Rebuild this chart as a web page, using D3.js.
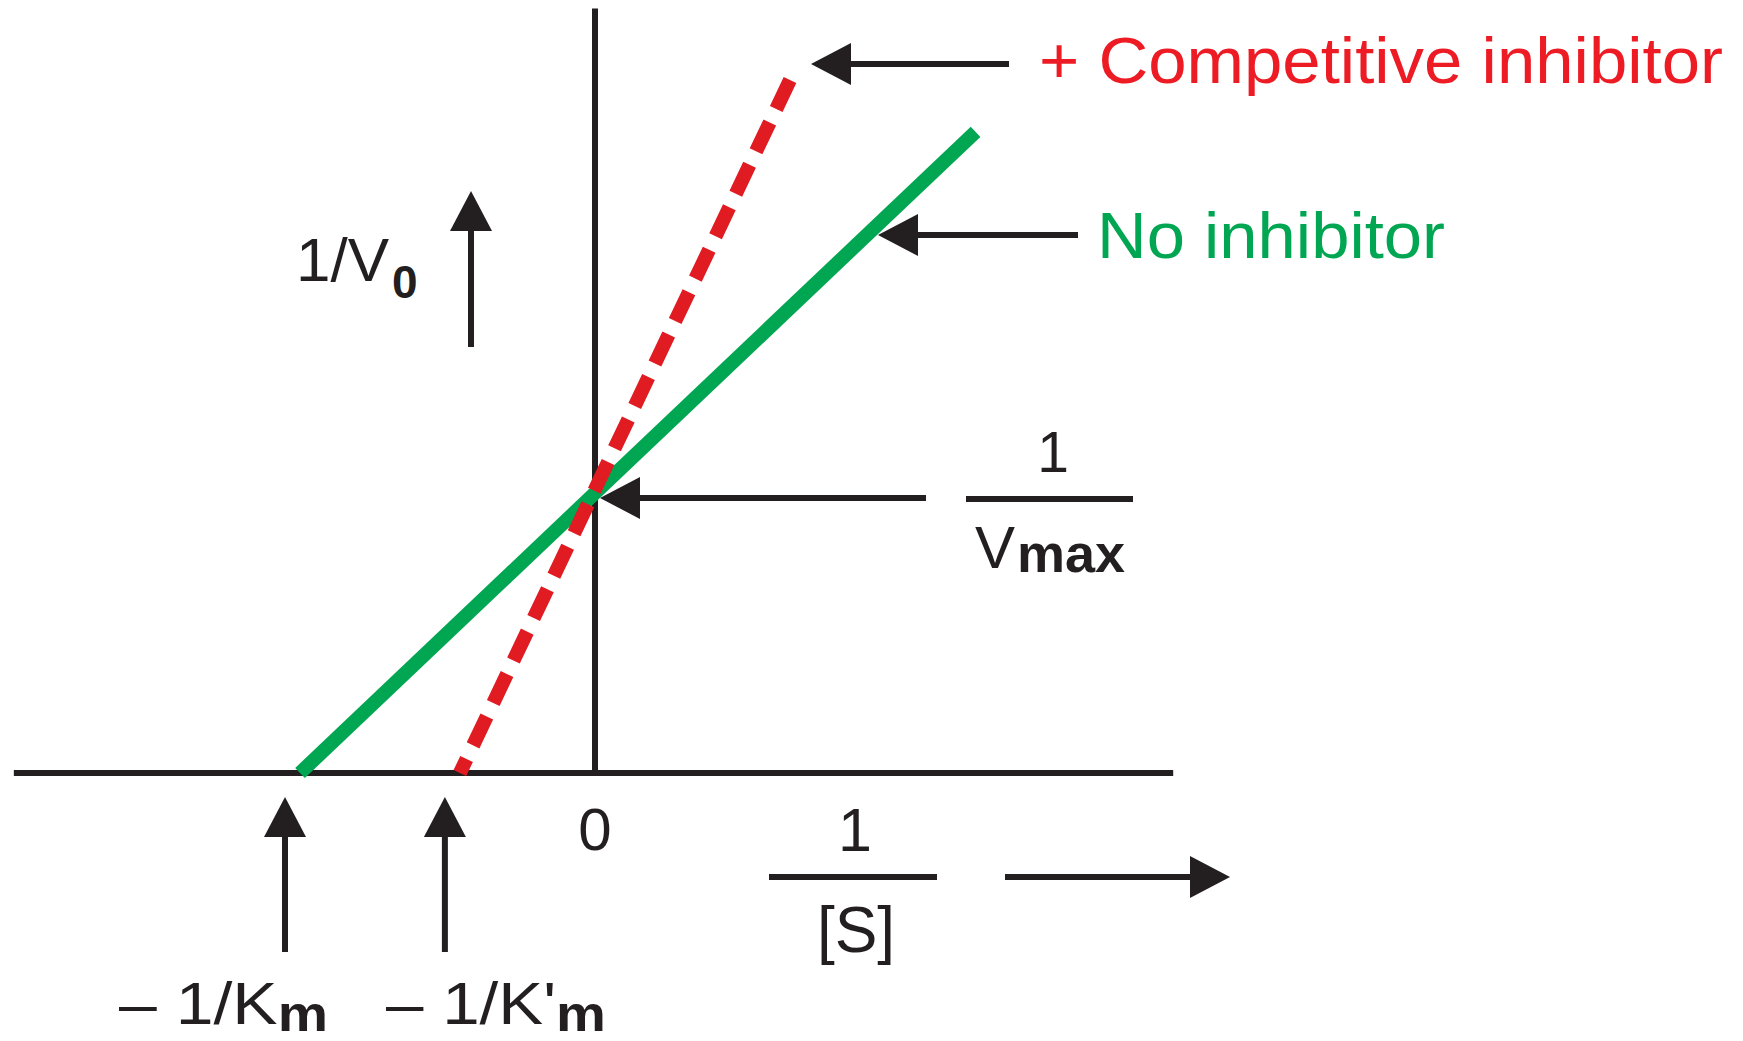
<!DOCTYPE html>
<html>
<head>
<meta charset="utf-8">
<script src="https://cdn.jsdelivr.net/npm/d3@7"></script>
<style>
  html, body { margin: 0; padding: 0; background: #fff; }
  svg { display: block; }
  text { font-family: "Liberation Sans", Arial, Helvetica, sans-serif; }
</style>
</head>
<body>
<svg id="canvas"></svg>
<script>
// Lineweaver-Burk plot, values in arbitrary units (x = 1/[S], y = 1/V0)
let noInhibitor = [[-1, 0], [1.29, 2.29]]
let competitive = [[0.661, 2.475], [-0.458, 0]]
let xExtent = [-1.97, 1.96]
let yExtent = [0, 2.73]
let intercepts = [-1, -0.458]
let interceptLabels = ['Km', "K'm"]
let vmaxInv = 1

let width = 1743
let height = 1041
let ink = '#231f20'
let green = '#00a651'
let red = '#e01b22'

let canvas = d3.select('#canvas')
    .attr('width', width)
    .attr('height', height)

let xScale = d3.scaleLinear().domain([-1, 0]).range([300, 595])
let yScale = d3.scaleLinear().domain([0, 1]).range([773, 493])

let line = d3.line()
    .x((d) => xScale(d[0]))
    .y((d) => yScale(d[1]))

// black arrow: shaft from (x1,y1) to tip (x2,y2)
let arrow = (x1, y1, x2, y2) => {
    let len = 40
    let half = 21
    let a = Math.atan2(y2 - y1, x2 - x1)
    let bx = x2 - len * Math.cos(a)
    let by = y2 - len * Math.sin(a)
    canvas.append('line')
        .attr('x1', x1).attr('y1', y1)
        .attr('x2', bx).attr('y2', by)
        .attr('stroke', ink)
        .attr('stroke-width', 6)
    let px = -Math.sin(a) * half
    let py = Math.cos(a) * half
    canvas.append('path')
        .attr('d', 'M' + x2 + ',' + y2 + 'L' + (bx + px) + ',' + (by + py) + 'L' + (bx - px) + ',' + (by - py) + 'Z')
        .attr('fill', ink)
}

let drawAxes = () => {
    canvas.append('line')
        .attr('x1', xScale(xExtent[0])).attr('x2', xScale(xExtent[1]))
        .attr('y1', yScale(0)).attr('y2', yScale(0))
        .attr('stroke', ink).attr('stroke-width', 6)
    canvas.append('line')
        .attr('x1', xScale(0)).attr('x2', xScale(0))
        .attr('y1', yScale(yExtent[0])).attr('y2', yScale(yExtent[1]))
        .attr('stroke', ink).attr('stroke-width', 6)
}

let drawLines = () => {
    canvas.append('path')
        .datum(noInhibitor)
        .attr('d', line)
        .attr('fill', 'none')
        .attr('stroke', green)
        .attr('stroke-width', 14)
    canvas.append('path')
        .datum(competitive)
        .attr('d', line)
        .attr('fill', 'none')
        .attr('stroke', red)
        .attr('stroke-width', 14)
        .attr('stroke-dasharray', '32,15')
}

let drawLabels = () => {
    // series labels
    canvas.append('text')
        .attr('x', 1039).attr('y', 83)
        .attr('font-size', 65)
        .attr('fill', '#ed1c24')
        .attr('textLength', 684)
        .attr('lengthAdjust', 'spacingAndGlyphs')
        .text('+ Competitive inhibitor')
    arrow(1009, 64, 811, 64)

    canvas.append('text')
        .attr('x', 1097).attr('y', 258)
        .attr('font-size', 65)
        .attr('fill', green)
        .attr('textLength', 348)
        .attr('lengthAdjust', 'spacingAndGlyphs')
        .text('No inhibitor')
    arrow(1078, 235, 878, 235)

    // y axis title
    let yt = canvas.append('text')
        .attr('x', 296).attr('y', 281)
        .attr('font-size', 62)
        .attr('fill', ink)
    yt.append('tspan').text('1/V')
    yt.append('tspan')
        .attr('font-size', 46)
        .attr('font-weight', 'bold')
        .attr('dy', 17)
        .attr('dx', 3)
        .text('0')
    arrow(471, 347, 471, 191)

    // 1/Vmax
    arrow(926, yScale(vmaxInv) + 5, xScale(0) + 5, yScale(vmaxInv) + 5)
    canvas.append('text')
        .attr('x', 1053).attr('y', 472)
        .attr('font-size', 57)
        .attr('text-anchor', 'middle')
        .attr('fill', ink)
        .text('1')
    canvas.append('line')
        .attr('x1', 966).attr('x2', 1133)
        .attr('y1', 499).attr('y2', 499)
        .attr('stroke', ink).attr('stroke-width', 6)
    let vt = canvas.append('text')
        .attr('x', 975).attr('y', 568)
        .attr('font-size', 60)
        .attr('fill', ink)
    vt.append('tspan').text('V')
    vt.append('tspan')
        .attr('font-size', 54)
        .attr('font-weight', 'bold')
        .attr('dy', 4)
        .attr('dx', 2)
        .text('max')

    // x axis labels
    canvas.append('text')
        .attr('x', xScale(0)).attr('y', 850)
        .attr('font-size', 60)
        .attr('text-anchor', 'middle')
        .attr('fill', ink)
        .text('0')
    canvas.append('text')
        .attr('x', 855).attr('y', 851)
        .attr('font-size', 61)
        .attr('text-anchor', 'middle')
        .attr('fill', ink)
        .text('1')
    canvas.append('line')
        .attr('x1', 769).attr('x2', 937)
        .attr('y1', 877).attr('y2', 877)
        .attr('stroke', ink).attr('stroke-width', 6)
    canvas.append('text')
        .attr('x', 856).attr('y', 952)
        .attr('font-size', 64)
        .attr('text-anchor', 'middle')
        .attr('fill', ink)
        .text('[S]')
    arrow(1005, 877, 1230, 877)

    // intercept arrows and labels
    let labelX = [119, 386]
    let labelW = [209, 220]
    intercepts.forEach((v, i) => {
        let ax = xScale(v) - 15
        arrow(ax, 952, ax, 797)
        let lt = canvas.append('text')
            .attr('x', labelX[i]).attr('y', 1024)
            .attr('font-size', 60)
            .attr('fill', ink)
            .attr('textLength', labelW[i])
            .attr('lengthAdjust', 'spacingAndGlyphs')
        lt.append('tspan').text('\u2013 1/' + interceptLabels[i].slice(0, -1))
        lt.append('tspan')
            .attr('font-size', 50)
            .attr('font-weight', 'bold')
            .attr('dy', 7)
            .text('m')
    })
}

drawAxes()
drawLines()
drawLabels()
</script>
</body>
</html>
